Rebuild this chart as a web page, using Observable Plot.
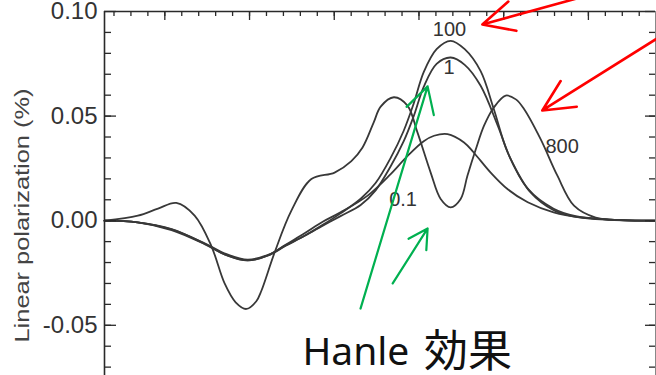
<!DOCTYPE html>
<html>
<head>
<meta charset="utf-8">
<script src="https://cdn.jsdelivr.net/npm/d3@7"></script>
<script src="https://cdn.jsdelivr.net/npm/@observablehq/plot@0.6"></script>
</head>
<body style="margin:0">
<div id="chart"></div>
<script>
// He I 10830 linear polarization (Q/I, %) vs wavelength offset from 10830 Å,
// for several magnetic field strengths (G).
const fields = ["0.1", "1", "100", "800"];

const wl_01 = [-1.856,-1.661,-1.460,-1.265,-1.135,-1.011,-0.887,-0.787,-0.675,-0.568,-0.463,-0.303,-0.167,-0.067,0.028,0.089,0.169,0.266,0.323,0.423,0.524,0.642,0.795,0.955,1.191,1.396];
const q_01  = [0,-0.0008,-0.0045,-0.0112,-0.0165,-0.0190,-0.0165,-0.0115,-0.0060,-0.0005,0.0040,0.0120,0.0223,0.0310,0.0380,0.0406,0.0414,0.0374,0.0326,0.0230,0.0150,0.0088,0.0040,0.0016,0.0003,0];

const wl_1 = [-1.856,-1.661,-1.460,-1.265,-1.135,-1.011,-0.887,-0.787,-0.675,-0.568,-0.463,-0.344,-0.256,-0.167,-0.090,-0.031,0.028,0.104,0.187,0.270,0.364,0.465,0.541,0.659,0.795,0.925,1.132,1.396];
const q_1  = [0,-0.0008,-0.0042,-0.0108,-0.0160,-0.0186,-0.0162,-0.0118,-0.0072,-0.0024,0.0022,0.0075,0.0145,0.0260,0.0380,0.0500,0.0640,0.0750,0.0780,0.0745,0.0645,0.0454,0.0295,0.0135,0.0050,0.0018,0.0004,0];

const wl_100 = [-1.856,-1.661,-1.460,-1.265,-1.135,-1.011,-0.887,-0.787,-0.675,-0.568,-0.463,-0.344,-0.256,-0.167,-0.090,-0.031,0.028,0.104,0.187,0.270,0.364,0.441,0.524,0.642,0.795,0.925,1.132,1.396];
const q_100  = [0,-0.0008,-0.0040,-0.0110,-0.0165,-0.0190,-0.0165,-0.0120,-0.0072,-0.0020,0.0035,0.0105,0.0180,0.0300,0.0430,0.0560,0.0710,0.0820,0.0860,0.0820,0.0715,0.0535,0.0326,0.0153,0.0057,0.0022,0.0005,0];

const wl_800 = [-1.856,-1.659,-1.540,-1.432,-1.324,-1.226,-1.147,-1.082,-1.019,-0.960,-0.930,-0.852,-0.753,-0.635,-0.498,-0.399,-0.333,-0.267,-0.226,-0.148,-0.068,-0.009,0.069,0.128,0.187,0.246,0.286,0.335,0.384,0.441,0.512,0.572,0.620,0.718,0.817,0.915,1.043,1.191,1.396];
const q_800  = [0,0.0024,0.0058,0.0085,0.0024,-0.0120,-0.0300,-0.0390,-0.0422,-0.0385,-0.0335,-0.0152,0.0048,0.0199,0.0230,0.0285,0.0350,0.0470,0.0545,0.0590,0.0550,0.0422,0.0230,0.0104,0.0064,0.0104,0.0215,0.0340,0.0454,0.0540,0.0598,0.0580,0.0534,0.0390,0.0215,0.0072,0.0015,0.0003,0];

// Axis ticks
const xMinorTicks = d3.range(-18, 14).map(i => i / 10);
const xMajorTicks = [-1.5, -1.0, -0.5, 0, 0.5, 1.0];
const yMinorTicks = d3.range(-7, 10).map(i => i / 100);
const yMajorTicks = [-0.05, 0, 0.05, 0.10];
const yTitle = "Linear polarization (%)";

// Build the long table for the line mark
const series = [[wl_01, q_01], [wl_1, q_1], [wl_100, q_100], [wl_800, q_800]];
const rows = series.flatMap(([wl, q], i) => wl.map((w, j) => ({field: fields[i], wl: w, q: q[j]})));

// Curve labels, placed next to each profile
const labelSpots = [
  {text: "100", wl: 0.180, q: 0.0913},
  {text: "1",   wl: 0.177, q: 0.0730},
  {text: "800", wl: 0.845, q: 0.0352},
  {text: "0.1", wl: -0.094, q: 0.0100}
];

// Callout arrows (tail -> head)
const redArrows = [
  {x1: 1.100, y1: 0.1100, x2: 0.374, y2: 0.0938},
  {x1: 1.486, y1: 0.0912, x2: 0.728, y2: 0.0527}
];
const greenArrows = [
  {x1: -0.345, y1: -0.0420, x2: 0.051, y2: 0.0642},
  {x1: -0.155, y1: -0.0300, x2: 0.051, y2: -0.0037}
];

const xDomain = [-1.856, 1.396];
const yDomain = [-0.074, 0.10];
const W = 656, H = 375, mL = 104, mR = 1, mT = 11, mB = 0;
const frameW = W - mL - mR, frameH = H - mT - mB;
// tick lengths in pixels, turned into data units along each axis
const perPxX = (xDomain[1] - xDomain[0]) / frameW;
const perPxY = (yDomain[1] - yDomain[0]) / frameH;
const ink = "#2a2a2a";

const topTicks = (ticks, len) => Plot.ruleX(ticks, {x: d => d, y1: yDomain[1], y2: yDomain[1] - len * perPxY, stroke: ink, strokeWidth: 1.3});
const sideTicks = (ticks, edge, len) => Plot.ruleY(ticks, {y: d => d, x1: edge, x2: edge + len * perPxX, stroke: ink, strokeWidth: 1.3});

const chart = Plot.plot({
  width: W,
  height: H,
  marginLeft: mL,
  marginRight: mR,
  marginTop: mT,
  marginBottom: mB,
  style: {fontFamily: "Liberation Sans, Arial, sans-serif"},
  x: {domain: xDomain, axis: null},
  y: {domain: yDomain},
  marks: [
    // tick labels and y title
    Plot.axisY(yMajorTicks, {anchor: "left", tickSize: 0, tickPadding: 7, tickFormat: d => d.toFixed(2),
      fontSize: 24, color: "#333", label: null}),
    Plot.text([yTitle], {frameAnchor: "left", text: d => d, rotate: -90, textAnchor: "start",
      dx: -82, dy: 149, fontSize: 21, fill: "#444"}),
    // profiles
    Plot.line(rows, {x: "wl", y: "q", z: "field", curve: "catmull-rom", stroke: "#383838", strokeWidth: 1.8}),
    // curve labels
    Plot.text(labelSpots, {x: "wl", y: "q", text: "text", fontSize: 20, fill: "#333"}),
    Plot.text(["Hanle"], {x: -0.688, y: -0.063, text: d => d, textAnchor: "start", fontSize: 39, fill: "#111", fontFamily: "Noto Sans"}),
    Plot.text(["効果"], {x: 0.030, y: -0.063, text: d => d, textAnchor: "start", fontSize: 44, fill: "#111", fontFamily: "Noto Sans CJK JP"}),
    // frame: left, right, top
    Plot.ruleX([xDomain[0]], {stroke: ink, strokeWidth: 1.6}),
    Plot.ruleX([xDomain[1]], {stroke: "#888", strokeWidth: 1}),
    Plot.ruleY([yDomain[1]], {stroke: ink, strokeWidth: 1.6}),
    // inward ticks
    topTicks(xMinorTicks, 5),
    topTicks(xMajorTicks, 9),
    sideTicks(yMinorTicks, xDomain[0], 7),
    sideTicks(yMajorTicks, xDomain[0], 12),
    sideTicks(yMinorTicks, xDomain[1], -6),
    sideTicks(yMajorTicks, xDomain[1], -10),
    // callouts
    Plot.arrow(redArrows, {x1: "x1", y1: "y1", x2: "x2", y2: "y2", stroke: "#ff0000", strokeWidth: 2.6, headLength: 20, headAngle: 52}),
    Plot.arrow(greenArrows, {x1: "x1", y1: "y1", x2: "x2", y2: "y2", stroke: "#00b050", strokeWidth: 2.2, headLength: 20, headAngle: 58})
  ]
});

// stretch the rotated y title to its full length
d3.select(chart).selectAll("text").filter(function () { return this.textContent === yTitle; })
  .attr("textLength", 254).attr("lengthAdjust", "spacingAndGlyphs");

document.getElementById("chart").append(chart);
</script>
</body>
</html>
